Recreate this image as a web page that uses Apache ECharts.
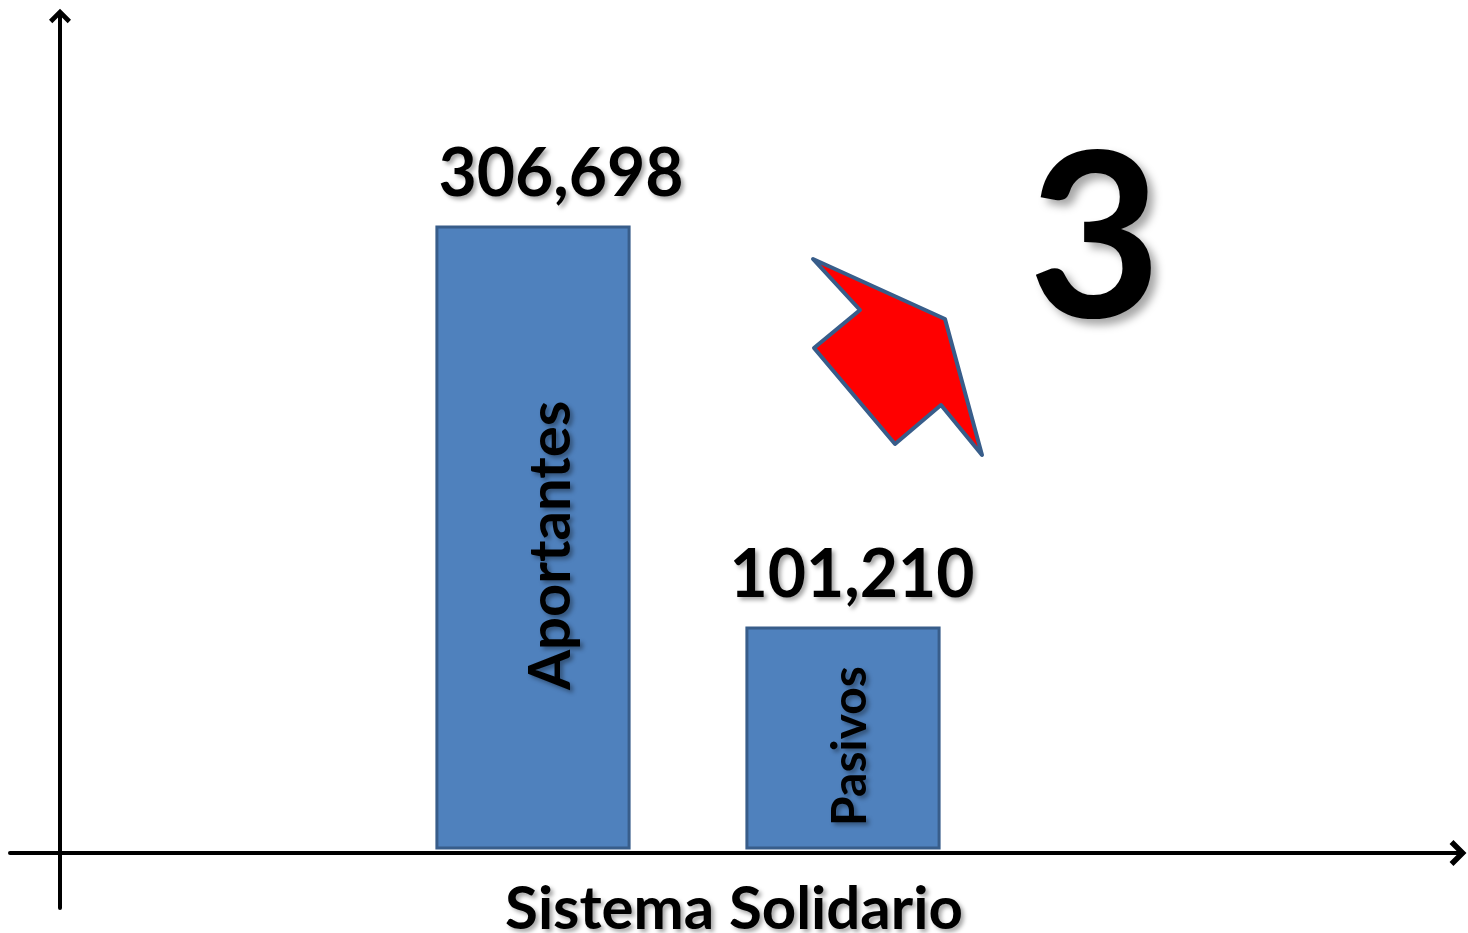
<!DOCTYPE html>
<html>
<head>
<meta charset="utf-8">
<style>
  html, body { margin: 0; padding: 0; background: #fff; }
  #main { width: 1468px; height: 933px; }
</style>
<script src="https://cdn.jsdelivr.net/npm/echarts@6/dist/echarts.min.js"></script>
</head>
<body>
<div id="main"></div>
<script>
    // datos del grafico
    var categories = ['Aportantes', 'Pasivos'];
    var values = [306698, 101210];
    var groupLabel = ['Sistema Solidario'];
    var badgeText = '3';

    var FONT = 'Lato, "Open Sans", sans-serif';
    var Y_MIN = -11500;   // la base de las barras en el dibujo original
    var BAR_FILL = '#4f81bd';
    var BAR_EDGE = '#385d8a';
    var chevron = 'path://M0,0 L10,10 L7,13 L0,6 L-7,13 L-10,10 Z';
    // ajustes de texto por barra (solo estilo)
    var valueShift = [28, 9];
    var nameShift = [18, 8];
    var nameSize = [58, 48];

    function fmt(v) {
        return v.toLocaleString('en-US');
    }

    var shadow = {
        textShadowColor: 'rgba(0,0,0,0.35)',
        textShadowBlur: 4,
        textShadowOffsetX: 3,
        textShadowOffsetY: 3
    };

    var chart = echarts.init(document.getElementById('main'));

    chart.setOption({
        animation: false,
        backgroundColor: '#fff',
        grid: [
            // barras
            {left: 378, width: 620, top: 227, bottom: 85, outerBoundsMode: 'none'},
            // eje x con flecha
            {left: 10, right: 10, top: 10, bottom: 80, outerBoundsMode: 'none'},
            // eje y con flecha
            {left: 60, width: 100, top: 16, bottom: 25, outerBoundsMode: 'none'}
        ],
        xAxis: [
            {gridIndex: 0, type: 'category', data: categories, show: false},
            {
                gridIndex: 1,
                type: 'category',
                data: groupLabel,
                axisLine: {
                    show: true,
                    symbol: ['none', chevron],
                    symbolSize: [26, 17],
                    lineStyle: {color: '#000', width: 4}
                },
                axisTick: {show: false},
                axisLabel: Object.assign({
                    color: '#000',
                    fontFamily: FONT,
                    fontWeight: 'bold',
                    fontSize: 60,
                    margin: 27
                }, shadow)
            },
            {gridIndex: 2, type: 'value', show: false}
        ],
        yAxis: [
            {gridIndex: 0, type: 'value', min: Y_MIN, max: values[0], show: false},
            {gridIndex: 1, type: 'value', show: false},
            {
                gridIndex: 2,
                type: 'value',
                min: 0,
                max: 1,
                axisLine: {
                    show: true,
                    symbol: ['none', chevron],
                    symbolSize: [22, 18],
                    lineStyle: {color: '#000', width: 4}
                },
                axisTick: {show: false},
                axisLabel: {show: false},
                splitLine: {show: false}
            }
        ],
        series: [
            {
                type: 'custom',
                xAxisIndex: 0,
                yAxisIndex: 0,
                data: values.map(function (v, i) { return [i, v]; }),
                encode: {x: 0, y: 1},
                renderItem: function (params, api) {
                    var idx = api.value(0);
                    var val = api.value(1);
                    var top = api.coord([idx, val]);
                    var base = api.coord([idx, Y_MIN]);
                    var w = api.size([1, 0])[0] * 0.62;
                    var h = base[1] - top[1];
                    return {
                        type: 'group',
                        children: [
                            {
                                type: 'rect',
                                shape: {x: top[0] - w / 2, y: top[1], width: w, height: h},
                                style: {fill: BAR_FILL, stroke: BAR_EDGE, lineWidth: 3}
                            },
                            {
                                type: 'text',
                                x: top[0] + valueShift[idx],
                                y: top[1] - 52,
                                style: Object.assign({
                                    text: fmt(val),
                                    fill: '#000',
                                    fontFamily: FONT,
                                    fontWeight: 'bold',
                                    fontSize: 66,
                                    align: 'center',
                                    verticalAlign: 'middle'
                                }, shadow)
                            },
                            {
                                type: 'text',
                                x: top[0] + nameShift[idx],
                                y: top[1] + h / 2 + 8,
                                rotation: Math.PI / 2,
                                style: Object.assign({
                                    text: categories[idx],
                                    fill: '#000',
                                    fontFamily: FONT,
                                    fontWeight: 'bold',
                                    fontSize: nameSize[idx],
                                    align: 'center',
                                    verticalAlign: 'middle'
                                }, shadow)
                            }
                        ]
                    };
                }
            }
        ],
        graphic: [
            {
                type: 'polygon',
                shape: {
                    points: [[813, 259], [945, 319], [982, 455], [941, 405],
                             [895, 444], [814, 348], [860, 310]]
                },
                style: {fill: '#ff0000', stroke: BAR_EDGE, lineWidth: 4, lineJoin: 'round'}
            },
            {
                type: 'text',
                x: 1095,
                y: 243,
                style: Object.assign({
                    text: badgeText,
                    fill: '#000',
                    fontFamily: FONT,
                    fontWeight: 'bold',
                    fontSize: 230,
                    align: 'center',
                    verticalAlign: 'middle'
                }, {
                    textShadowColor: 'rgba(0,0,0,0.35)',
                    textShadowBlur: 8,
                    textShadowOffsetX: 6,
                    textShadowOffsetY: 6
                })
            }
        ]
    });
</script>
</body>
</html>
